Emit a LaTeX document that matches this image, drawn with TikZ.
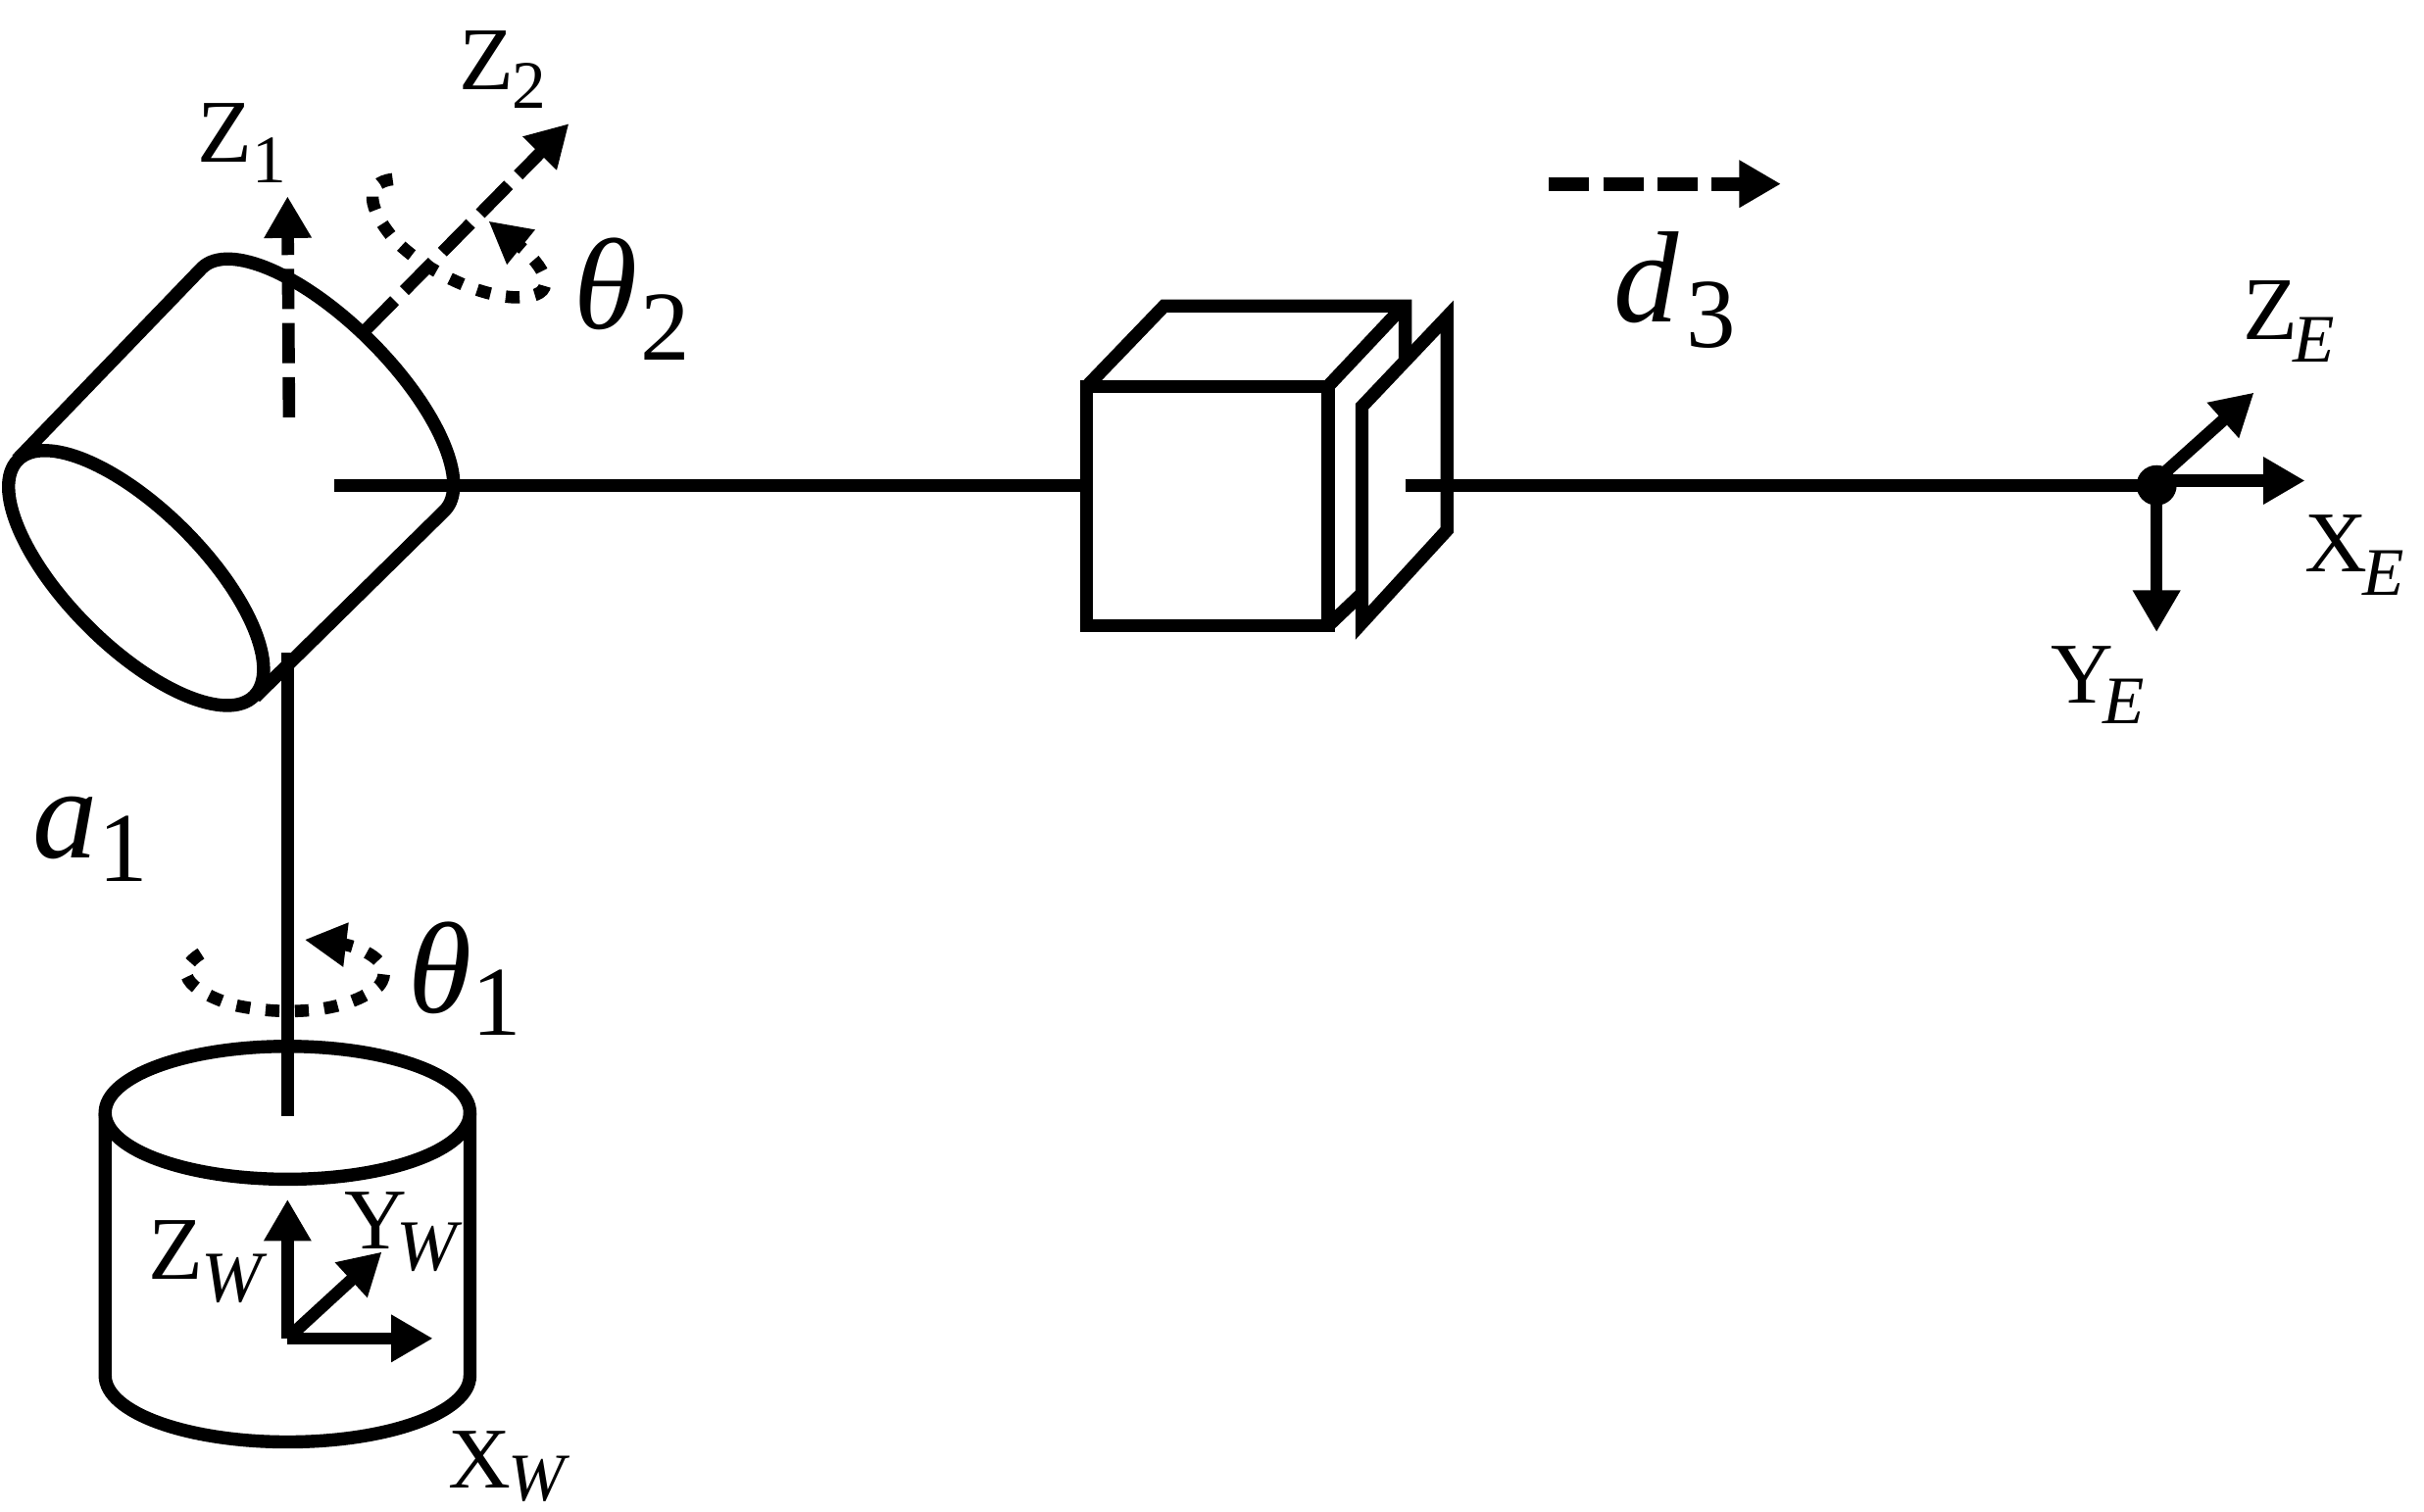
\documentclass[tikz,border=0pt]{standalone}
\usepackage{fontspec}
\setmainfont{Liberation Serif}
\usetikzlibrary{arrows.meta}
\newcommand{\lbl}[4]{{\fontsize{#1}{#1}\selectfont #2}\kern#3pt #4}
\newcommand{\subup}[3]{\raisebox{-#1pt}{\fontsize{#2}{#2}\selectfont #3}}
\newcommand{\subit}[3]{\raisebox{-#1pt}{\fontsize{#2}{#2}\selectfont\itshape #3}}
\tikzset{
  ink/.style={line width=8.5pt,draw=black},
  thin ink/.style={line width=8.5pt,draw=black},
  axis/.style={line width=8pt,draw=black,-{Triangle[length=27pt,width=29pt]}},
  dashaxis/.style={line width=8pt,draw=black,dash pattern=on 26pt off 9pt,-{Triangle[length=27pt,width=29pt]}},
  dotarc/.style={line width=8pt,draw=black,dash pattern=on 9pt off 10pt,-{Triangle[length=27pt,width=27pt]}},
  txt/.style={anchor=base west,inner sep=0pt,outer sep=0pt,text=black},
}
\begin{document}
\begin{tikzpicture}[x=1pt,y=-1pt]
\useasboundingbox (0,0) rectangle (1568,978.3);
% cone
\draw[ink] (11,297.5) -- (130.5,173.5) .. controls (147.7,156.3) and (196.7,177.7) .. (240,221)
  .. controls (283.3,264.3) and (304.7,313.3) .. (287.5,330.5) -- (165,451);
\draw[ink,rotate around={-45:(88,374)}] (88,374) ellipse [x radius=108,y radius=44];
% links
\coordinate (jointA) at (186,422);
\coordinate (baseTop) at (186,722);
\coordinate (linkL) at (216,314);
\coordinate (boxL) at (700,314);
\coordinate (linkR) at (909,314);
\coordinate (ee) at (1395,314);
\draw[thin ink] (jointA) -- (baseTop);
\draw[thin ink] (linkL) -- (boxL);
\draw[thin ink] (linkR) -- (ee);
% cylinder
\draw[ink] (186,720) ellipse [x radius=118,y radius=43];
\draw[ink] (68,720) -- (68,890) .. controls (68,914) and (121,933) .. (186,933)
  .. controls (251,933) and (304,914) .. (304,890) -- (304,720);
% box
\draw[thin ink] (703,250) rectangle (859,405);
\draw[thin ink] (703,250) -- (753,198) -- (909,198) -- (909,233);
\draw[thin ink] (859,250) -- (907,199);
\draw[thin ink] (859,405) -- (881,384);
\draw[thin ink] (881,263) -- (936,205) -- (936,343) -- (881,403) -- cycle;
% world frame
\coordinate (ow) at (186,866);
\coordinate (zw) at (186,776);
\coordinate (xw) at (280,866);
\coordinate (yw) at (247,810);
\draw[axis] (ow) -- (zw);
\draw[axis] (ow) -- (xw);
\draw[axis] (ow) -- (yw);
% joint axes
\coordinate (z1a) at (187,270);
\coordinate (z1b) at (186,127);
\coordinate (z2a) at (237,213);
\coordinate (z2b) at (368,80);
\draw[dashaxis] (z1a) -- (z1b);
\draw[dashaxis] (z2a) -- (z2b);
% rotation arcs
\draw[dotarc] (254,116) .. controls (235,118) and (238,135) .. (255,155)
  .. controls (280,180) and (320,195) .. (340,192)
  .. controls (362,190) and (352,172) .. (316,143);
\draw[dotarc] (130,617) .. controls (112,628) and (120,640) .. (150,650)
  .. controls (185,658) and (225,655) .. (245,638)
  .. controls (258,622) and (230,612) .. (197,608);
% d3 arrow
\coordinate (da) at (1002,119);
\coordinate (db) at (1152,119);
\draw[dashaxis,line width=9pt] (da) -- (db);
% end effector
\fill[black] (ee) circle [radius=13];
\coordinate (ox) at (1395,311);
\coordinate (xe) at (1491,311);
\coordinate (ye) at (1395,409);
\coordinate (oz) at (1400,306);
\coordinate (ze) at (1458,254);
\draw[axis] (ox) -- (xe);
\draw[axis] (ee) -- (ye);
\draw[axis] (oz) -- (ze);
% labels
\node[txt] (lz1) at (128,105) {\lbl{58}{Z}{0}{\subup{13}{44}{1}}};
\node[txt] (lz2) at (297,58) {\lbl{58}{Z}{-1}{\subup{12}{44}{2}}};
\node[txt] (lt2) at (371,213) {\lbl{84}{\itshape θ}{2}{\subup{20}{64}{2}}};
\node[txt] (lt1) at (264,655) {\lbl{84}{\itshape θ}{0}{\subup{15}{64}{1}}};
\node[txt] (la1) at (21,555) {\lbl{84}{\itshape a}{1}{\subup{15}{64}{1}}};
\node[txt] (ld3) at (1044,208) {\lbl{84}{\itshape d}{5}{\subup{17}{64}{3}}};
\node[txt] (lze) at (1451,220) {\lbl{58}{Z}{-3}{\subit{14}{44}{E}}};
\node[txt] (lxe) at (1491,370) {\lbl{56}{X}{-3}{\subit{15}{44}{E}}};
\node[txt] (lye) at (1327,455) {\lbl{56}{Y}{-7}{\subit{13}{44}{E}}};
\node[txt] (lzw) at (96,828) {\lbl{58}{Z}{-1}{\subit{14}{47}{W}}};
\node[txt] (lyw) at (223,808) {\lbl{56}{Y}{-7}{\subit{14}{47}{W}}};
\node[txt] (lxw) at (290,963) {\lbl{56}{X}{-2}{\subit{8}{44}{W}}};
\end{tikzpicture}
\end{document}
